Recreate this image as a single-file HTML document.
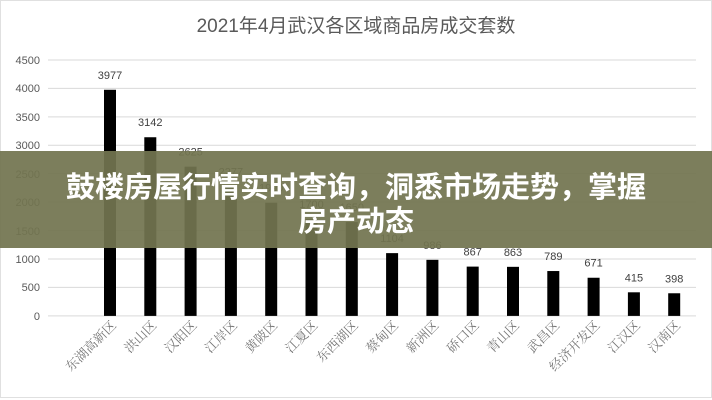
<!DOCTYPE html>
<html><head><meta charset="utf-8"><style>
body{margin:0;width:712px;height:400px;overflow:hidden;background:#fff;font-family:"Liberation Sans","Noto Sans CJK SC",sans-serif;}
</style></head><body>
<svg width="712" height="400" xmlns="http://www.w3.org/2000/svg" style="position:absolute;left:0;top:0">
<rect x="0" y="0" width="712" height="400" fill="#fff"/>
<rect x="0.5" y="0.5" width="711" height="397" fill="none" stroke="#e0e0e0"/>
<text x="356" y="32" text-anchor="middle" font-size="19" fill="#595959" font-family="Liberation Sans,Noto Sans CJK SC,sans-serif">2021年4月武汉各区域商品房成交套数</text>
<g stroke="#d9d9d9" stroke-width="1">
<line x1="48" x2="696" y1="60" y2="60"/><line x1="48" x2="696" y1="88.4" y2="88.4"/><line x1="48" x2="696" y1="116.9" y2="116.9"/><line x1="48" x2="696" y1="145.3" y2="145.3"/><line x1="48" x2="696" y1="173.7" y2="173.7"/><line x1="48" x2="696" y1="202.1" y2="202.1"/><line x1="48" x2="696" y1="230.6" y2="230.6"/><line x1="48" x2="696" y1="259" y2="259"/><line x1="48" x2="696" y1="287.4" y2="287.4"/><line x1="48" x2="696" y1="315.9" y2="315.9"/>
</g>
<g font-size="11" fill="#595959" text-anchor="end">
<text x="40" y="64">4500</text><text x="40" y="92">4000</text><text x="40" y="121">3500</text><text x="40" y="149">3000</text><text x="40" y="178">2500</text><text x="40" y="206">2000</text><text x="40" y="235">1500</text><text x="40" y="263">1000</text><text x="40" y="291">500</text><text x="40" y="320">0</text>
</g>
<g fill="#000" id="bars"></g>
<g font-size="11" fill="#404040" text-anchor="middle" id="vals"></g>
<g font-size="13" fill="#777" font-family="Liberation Serif,Noto Serif CJK SC,serif" id="cats"></g>
<rect x="0" y="151" width="712" height="97" fill="#727450" fill-opacity="0.93"/>
<text x="356" y="197" text-anchor="middle" font-size="29" font-weight="bold" fill="#fff" font-family="Liberation Sans,Noto Sans CJK SC,sans-serif">鼓楼房屋行情实时查询，洞悉市场走势，掌握</text>
<text x="356" y="231" text-anchor="middle" font-size="29" font-weight="bold" fill="#fff" font-family="Liberation Sans,Noto Sans CJK SC,sans-serif">房产动态</text>
</svg>
<script>
var v=[3977,3142,2625,2277,1990,1700,1650,1104,986,867,863,789,671,415,398];
var c=["东湖高新区","洪山区","汉阳区","江岸区","黄陂区","江夏区","东西湖区","蔡甸区","新洲区","硚口区","青山区","武昌区","经济开发区","江汉区","汉南区"];
var ns="http://www.w3.org/2000/svg",b=document.getElementById("bars"),t=document.getElementById("vals"),k=document.getElementById("cats");
for(var i=0;i<v.length;i++){var x=110+i*40.3,h=v[i]*0.05686,y=315.9-h;
var r=document.createElementNS(ns,"rect");r.setAttribute("x",x-6);r.setAttribute("y",y);r.setAttribute("width",12);r.setAttribute("height",h);b.appendChild(r);
var s=document.createElementNS(ns,"text");s.setAttribute("x",x);s.setAttribute("y",y-11);s.textContent=v[i];t.appendChild(s);
var q=document.createElementNS(ns,"text");q.setAttribute("text-anchor","end");q.setAttribute("transform","translate("+(x+7)+",326) rotate(-45)");q.textContent=c[i];k.appendChild(q);}
</script>
</body></html>
